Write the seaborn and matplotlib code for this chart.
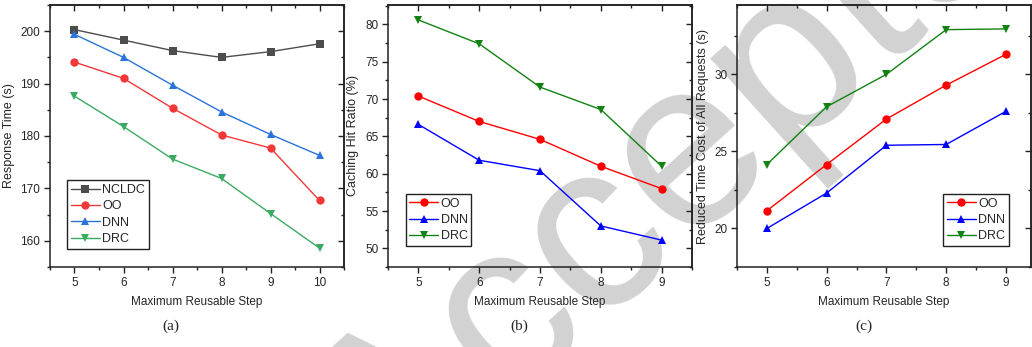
import numpy as np
import seaborn as sns
import matplotlib.pyplot as plt
import pandas as pd
from matplotlib.ticker import MultipleLocator, NullFormatter

# data
steps_a = [5, 6, 7, 8, 9, 10]
resp_ncldc = [200.3, 198.3, 196.3, 195.0, 196.1, 197.6]
resp_oo = [194.1, 191.0, 185.3, 180.2, 177.7, 167.7]
resp_dnn = [199.4, 195.0, 189.7, 184.6, 180.3, 176.3]
resp_drc = [187.6, 181.8, 175.6, 171.9, 165.2, 158.6]

steps_bc = [5, 6, 7, 8, 9]
hit_oo = [70.4, 67.0, 64.6, 61.0, 58.0]
hit_dnn = [66.6, 61.8, 60.4, 53.0, 51.1]
hit_drc = [80.6, 77.4, 71.6, 68.6, 61.0]

cost_oo = [21.15, 24.15, 27.1, 29.3, 31.3]
cost_dnn = [20.0, 22.3, 25.4, 25.45, 27.6]
cost_drc = [24.15, 27.9, 30.0, 32.9, 32.95]

sns.set_style("ticks")
plt.rcParams['font.family'] = ['Liberation Sans', 'DejaVu Sans']

fig = plt.figure(figsize=(10.32, 3.47), dpi=100)
W, H = 1032, 347
INK = '#222222'


def box(l, t, r, b):
    return [l / W, 1 - b / H, (r - l) / W, (b - t) / H]


def make_df(steps, series):
    rows = []
    for name, vals in series:
        for s, v in zip(steps, vals):
            rows.append({'step': s, 'val': v, 'method': name})
    return pd.DataFrame(rows)


def style_axis(ax, xlim, ylim, ymaj, ymin):
    ax.set_facecolor('none')
    ax.set_xlim(*xlim)
    ax.set_ylim(*ylim)
    ax.xaxis.set_major_locator(MultipleLocator(1))
    ax.xaxis.set_minor_locator(MultipleLocator(0.5))
    ax.yaxis.set_major_locator(MultipleLocator(ymaj))
    ax.yaxis.set_minor_locator(MultipleLocator(ymin))
    for sp in ax.spines.values():
        sp.set_visible(True)
        sp.set_linewidth(1.1)
        sp.set_color(INK)
    ax.tick_params(which='major', direction='out', length=4, width=1, labelsize=8.5,
                   color=INK, pad=3)
    ax.tick_params(which='minor', direction='out', length=2.5, width=1, color=INK)
    # mirrored ticks on top/right point inward (Origin style)
    top = ax.secondary_xaxis('top')
    top.xaxis.set_major_locator(MultipleLocator(1))
    top.xaxis.set_minor_locator(MultipleLocator(0.5))
    top.xaxis.set_major_formatter(NullFormatter())
    right = ax.secondary_yaxis('right')
    right.yaxis.set_major_locator(MultipleLocator(ymaj))
    right.yaxis.set_minor_locator(MultipleLocator(ymin))
    right.yaxis.set_major_formatter(NullFormatter())
    for sec in (top, right):
        sec.tick_params(which='major', direction='in', length=4, width=1, color=INK)
        sec.tick_params(which='minor', direction='in', length=2.5, width=1, color=INK)
        for sp in sec.spines.values():
            sp.set_linewidth(1.1)
            sp.set_color(INK)
    ax.set_xlabel('Maximum Reusable Step', fontsize=8.5, labelpad=5)


def draw(ax, steps, series, colors, markers):
    df = make_df(steps, series)
    names = [n for n, _ in series]
    sns.lineplot(data=df, x='step', y='val', hue='method', style='method',
                 hue_order=names, style_order=names, palette=colors,
                 markers=markers, dashes=False, markersize=6, linewidth=1,
                 markeredgewidth=0, ax=ax)
    handles, labels = ax.get_legend_handles_labels()
    ax.get_legend().remove()
    return handles, labels


def add_legend(ax, h, l, loc, anchor):
    ax.legend(h, l, loc=loc, bbox_to_anchor=anchor, fontsize=9,
              frameon=True, fancybox=False, edgecolor=INK, framealpha=1,
              handlelength=2.3, handletextpad=0.2, borderpad=0.3, labelspacing=0.35,
              borderaxespad=0)
    ax.get_legend().get_frame().set_linewidth(1)


# (a) response time
ax1 = fig.add_axes(box(50, 5, 344, 267))
h, l = draw(ax1, steps_a,
            [('NCLDC', resp_ncldc), ('OO', resp_oo), ('DNN', resp_dnn), ('DRC', resp_drc)],
            ['#4d4d4d', '#f23838', '#2a73d8', '#3aaa62'], ['s', 'o', '^', 'v'])
style_axis(ax1, (4.5, 10.5), (155, 205), 10, 5)
ax1.set_ylabel('Response Time (s)', fontsize=9, labelpad=4)
add_legend(ax1, h, l, 'lower left', (0.058, 0.069))

# (b) caching hit ratio
ax2 = fig.add_axes(box(388, 5, 692, 267))
h, l = draw(ax2, steps_bc,
            [('OO', hit_oo), ('DNN', hit_dnn), ('DRC', hit_drc)],
            ['#ff0000', '#0000ff', '#128212'], ['o', '^', 'v'])
style_axis(ax2, (4.5, 9.5), (47.5, 82.6), 5, 2.5)
ax2.set_ylabel('Caching Hit Ratio (%)', fontsize=9, labelpad=4)
add_legend(ax2, h, l, 'lower left', (0.058, 0.08))

# (c) reduced time cost
ax3 = fig.add_axes(box(737, 5, 1031, 267))
h, l = draw(ax3, steps_bc,
            [('OO', cost_oo), ('DNN', cost_dnn), ('DRC', cost_drc)],
            ['#ff0000', '#0000ff', '#128212'], ['o', '^', 'v'])
style_axis(ax3, (4.5, 9.42), (17.5, 34.5), 5, 2.5)
ax3.set_ylabel('Reduced Time Cost of All Requests (s)', fontsize=9, labelpad=4)
add_legend(ax3, h, l, 'lower right', (0.925, 0.08))

# captions
for x, cap in [(171, '(a)'), (519, '(b)'), (864, '(c)')]:
    fig.text(x / W, 1 - 326 / H, cap, ha='center', va='center', fontsize=11,
             family='Liberation Serif')

# watermark
fig.text(718 / W, 1 - 138 / H, 'Accepted', ha='center', va='center', fontsize=172,
         rotation=42, color='#d2d2d2', zorder=-1, family='Liberation Sans')

fig.savefig('out.png', dpi=100)
